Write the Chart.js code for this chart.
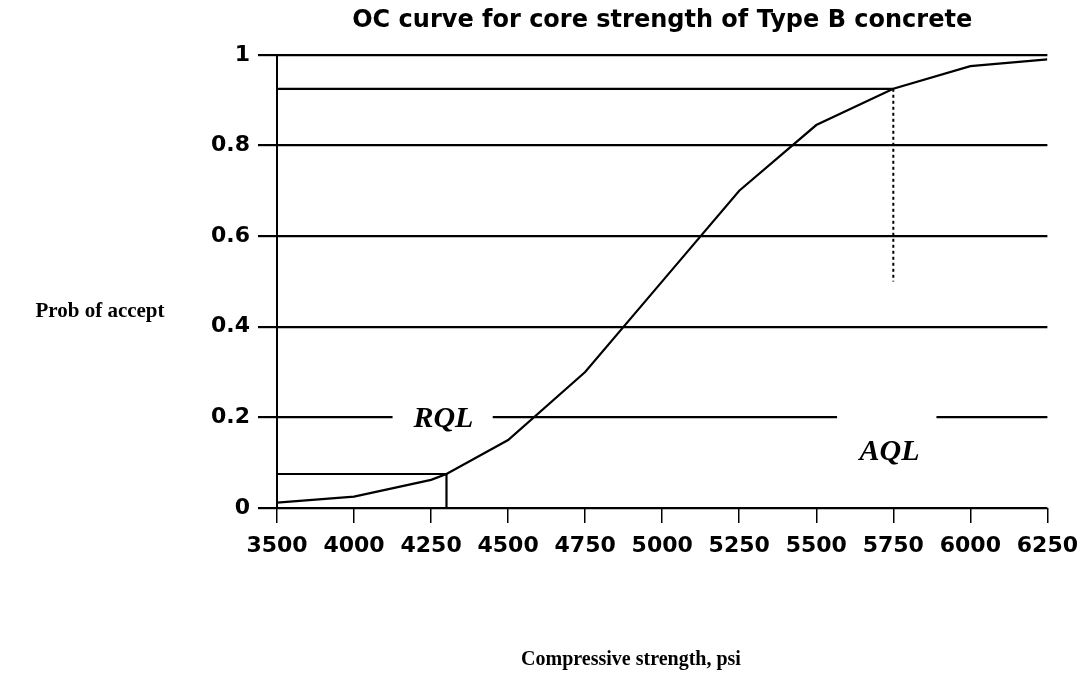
<!DOCTYPE html>
<html>
<head>
<meta charset="utf-8">
<title>OC curve</title>
<script src="https://cdn.jsdelivr.net/npm/chart.js@4.4.1/dist/chart.umd.min.js"></script>
<style>
  html, body { margin: 0; padding: 0; background: #fff; }
  #wrap { width: 1088px; height: 679px; }
</style>
</head>
<body>
<div id="wrap"><canvas id="ocChart"></canvas></div>
<script>
// tick labels along the strength axis (equally spaced, like the original sheet)
const tickValues = [3500, 4000, 4250, 4500, 4750, 5000, 5250, 5500, 5750, 6000, 6250];
const tickLabels = tickValues.map(String);

// OC curve
const strength = [3500, 4000, 4250, 4300, 4500, 4750, 5000, 5250, 5500, 5750, 6000, 6250];
const probAccept = [0.012, 0.025, 0.062, 0.075, 0.15, 0.3, 0.5, 0.7, 0.845, 0.925, 0.975, 0.99];

// quality levels
const rqlStrength = 4300;
const rqlProb = 0.075;
const aqlStrength = 5750;
const aqlProb = 0.925;
const aqlDropTo = 0.5;

// position of a strength value on the (equally spaced) tick axis
function axisPos(s) {
  for (let i = 0; i < tickValues.length - 1; i++) {
    if (s <= tickValues[i + 1]) {
      return i + (s - tickValues[i]) / (tickValues[i + 1] - tickValues[i]);
    }
  }
  return tickValues.length - 1;
}

const tickFont = { family: 'DejaVu Sans', size: 22, weight: 'bold' };

// RQL / AQL labels sitting on white boxes that break the 0.2 grid line
const labelPlugin = {
  id: 'qualityLabels',
  afterDatasetsDraw(chart) {
    const { ctx, scales: { x, y } } = chart;
    ctx.save();
    ctx.fillStyle = '#fff';
    // gap in the 0.2 line around RQL
    ctx.fillRect(x.getPixelForValue(1.5), y.getPixelForValue(0.2) - 4,
      x.getPixelForValue(2.8) - x.getPixelForValue(1.5), 8);
    // gap in the 0.2 line above AQL
    ctx.fillRect(x.getPixelForValue(7.27), y.getPixelForValue(0.2) - 4,
      x.getPixelForValue(8.56) - x.getPixelForValue(7.27), 8);

    ctx.fillStyle = '#000';
    ctx.font = 'italic bold 30px "Liberation Serif"';
    ctx.textAlign = 'center';
    ctx.textBaseline = 'middle';
    ctx.fillText('RQL', x.getPixelForValue(2.16), y.getPixelForValue(0.195));
    ctx.fillText('AQL', x.getPixelForValue(7.95), y.getPixelForValue(0.124));

    // axis titles (horizontal, as in the original)
    ctx.font = 'bold 21px "Liberation Serif"';
    ctx.fillText('Prob of accept', 100, 312);
    ctx.font = 'bold 20px "Liberation Serif"';
    ctx.fillText('Compressive strength, psi', 631, 660);
    ctx.restore();
  }
};

const ctx = document.getElementById('ocChart').getContext('2d');
new Chart(ctx, {
  type: 'line',
  data: {
    datasets: [
      {
        label: 'OC curve',
        data: strength.map((s, i) => ({ x: axisPos(s), y: probAccept[i] })),
        borderColor: '#000',
        borderWidth: 2.2,
        pointRadius: 0,
        tension: 0,
      },
      {
        label: 'RQL',
        data: [
          { x: axisPos(tickValues[0]), y: rqlProb },
          { x: axisPos(rqlStrength), y: rqlProb },
          { x: axisPos(rqlStrength), y: 0 },
        ],
        borderColor: '#000',
        borderWidth: 2.2,
        pointRadius: 0,
      },
      {
        label: 'AQL',
        data: [
          { x: axisPos(tickValues[0]), y: aqlProb },
          { x: axisPos(aqlStrength), y: aqlProb },
        ],
        borderColor: '#000',
        borderWidth: 2.2,
        pointRadius: 0,
      },
      {
        label: 'AQL drop',
        data: [
          { x: axisPos(aqlStrength), y: aqlProb },
          { x: axisPos(aqlStrength), y: aqlDropTo },
        ],
        borderColor: '#000',
        borderWidth: 2,
        borderDash: [3, 3],
        pointRadius: 0,
      },
    ],
  },
  options: {
    responsive: true,
    maintainAspectRatio: false,
    animation: false,
    layout: { padding: { top: 4, right: 28, bottom: 0, left: 0 } },
    plugins: {
      legend: { display: false },
      tooltip: { enabled: false },
      title: {
        display: true,
        fullSize: false,
        text: 'OC curve for core strength of Type B concrete',
        color: '#000',
        font: { family: 'DejaVu Sans', size: 24, weight: 'bold' },
        padding: { top: 2, bottom: 20 },
      },
    },
    scales: {
      x: {
        type: 'linear',
        min: 0,
        max: tickValues.length - 1,
        afterFit: (s) => { s.height = 171; },
        ticks: {
          stepSize: 1,
          autoSkip: false,
          maxRotation: 0,
          color: '#000',
          font: tickFont,
          padding: 10,
          callback: (v) => tickLabels[v],
        },
        grid: {
          drawOnChartArea: false,
          drawTicks: true,
          tickLength: 15,
          color: '#000',
          lineWidth: 1.5,
        },
        border: { display: false },
      },
      y: {
        min: 0,
        max: 1,
        afterFit: (s) => { s.width = 277; },
        ticks: {
          stepSize: 0.2,
          color: '#000',
          font: tickFont,
          padding: 8,
          callback: (v) => String(Number(v.toFixed(1))),
        },
        grid: {
          color: '#000',
          lineWidth: 2.2,
          tickLength: 19,
        },
        border: { color: '#000', width: 2 },
      },
    },
  },
  plugins: [labelPlugin],
});
</script>
</body>
</html>
